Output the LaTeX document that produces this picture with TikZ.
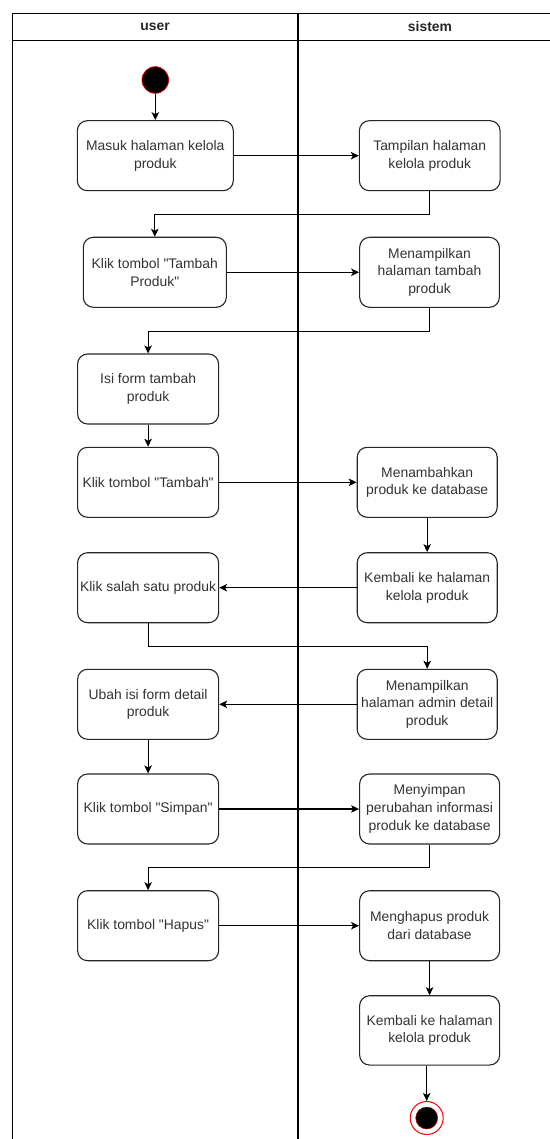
\documentclass[tikz,border=0pt]{standalone}
\usepackage{fontspec}
\setmainfont{Liberation Sans}[Ligatures=TeXOff]
\usetikzlibrary{arrows.meta}
\begin{document}
\begin{tikzpicture}[x=1pt,y=-1pt,
  act/.style={draw=black!85, line width=1.1pt, rounded corners=10pt, fill=white,
    align=center, minimum height=70pt, inner sep=0pt, text=black!80,
    font=\fontsize{13.9}{17.7}\selectfont},
  flow/.style={draw=black, line width=1.1pt, -{Stealth[length=8pt,width=7.5pt,inset=2pt]}},
  lane/.style={draw=black, line width=1.3pt},
  head/.style={font=\bfseries\fontsize{13.9}{16}\selectfont, text=black!85}]
\useasboundingbox (0,0) rectangle (549,1139);

% swimlane frame
\draw[lane] (12.3,1150) -- (12.3,13.3) -- (562,13.3) -- (562,1150);
\draw[lane] (12.3,40.5) -- (562,40.5);
\draw[lane, line width=2pt] (297.7,13.3) -- (297.7,1150);
\node[head] (hu) at (155,27) {user};
\node[head] (hs) at (430,27) {sistem};

% start / end states
\node[circle, fill=black, draw=red!85!black, line width=0.8pt, minimum size=26.6pt, inner sep=0pt] (start) at (155.3,80) {};
\node[circle, draw=red, line width=1pt, fill=white, minimum size=33pt, inner sep=0pt] (end) at (426.7,1118) {};
\node[circle, fill=black, draw=red!85!black, line width=0.5pt, minimum size=22pt, inner sep=0pt] (endcore) at (end) {};

% user lane
\node[act, minimum width=156pt] (L1) at (155.3,155.7) {Masuk halaman kelola\\produk};
\node[act, minimum width=143pt] (L2) at (154.8,272.3) {Klik tombol "Tambah\\Produk"};
\node[act, minimum width=141pt] (L3) at (148.1,389) {Isi form tambah\\produk};
\node[act, minimum width=141pt] (L4) at (148.1,482.3) {Klik tombol "Tambah"};
\node[act, minimum width=141pt] (L5) at (148.1,587.7) {Klik salah satu produk};
\node[act, minimum width=141pt] (L6) at (148.1,704.3) {Ubah isi form detail\\produk};
\node[act, minimum width=141pt] (L7) at (148.1,809) {Klik tombol "Simpan"};
\node[act, minimum width=141pt] (L8) at (148.1,925.7) {Klik tombol "Hapus"};

% system lane
\node[act, minimum width=140.7pt] (R1) at (429.7,155.7) {Tampilan halaman\\kelola produk};
\node[act, minimum width=139.7pt] (R2) at (429.5,272.3) {Menampilkan\\halaman tambah\\produk};
\node[act, minimum width=140pt] (R4) at (427.2,482.3) {Menambahkan\\produk ke database};
\node[act, minimum width=140pt] (R5) at (427.2,587.7) {Kembali ke halaman\\kelola produk};
\node[act, minimum width=140pt] (R6) at (427.2,704.3) {Menampilkan\\halaman admin detail\\produk};
\node[act, minimum width=140pt] (R7) at (429.6,809) {Menyimpan\\perubahan informasi\\produk ke database};
\node[act, minimum width=140pt] (R8) at (429.6,925.7) {Menghapus produk\\dari database};
\node[act, minimum width=140pt, minimum height=69.3pt] (R9) at (429.6,1030.4) {Kembali ke halaman\\kelola produk};

% control flow
\draw[flow] (start) -- (L1);
\draw[flow] (L1) -- (R1);
\draw[flow] (R1.south) -- ++(0,23.3) -| (L2.north);
\draw[flow] (L2) -- (R2);
\draw[flow] (R2.south) -- ++(0,23.4) -| (L3.north);
\draw[flow] (L3) -- (L4);
\draw[flow] (L4) -- (R4);
\draw[flow] (R4) -- (R5);
\draw[flow] (R5) -- (L5);
\draw[flow] (L5.south) -- ++(0,23) -| (R6.north);
\draw[flow] (R6) -- (L6);
\draw[flow] (L6) -- (L7);
\draw[flow] (L7) -- (R7);
\draw[flow] (R7.south) -- ++(0,23) -| (L8.north);
\draw[flow] (L8) -- (R8);
\draw[flow] (R8) -- (R9);
\draw[flow] (R9.south -| end) -- (end.north);
\end{tikzpicture}
\end{document}
